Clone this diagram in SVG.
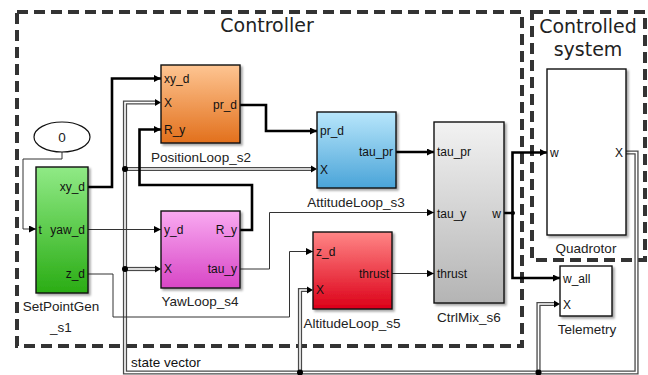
<svg xmlns="http://www.w3.org/2000/svg" width="648" height="375" viewBox="0 0 648 375">
  <style>
    .frame { fill: none; stroke: #333; stroke-width: 4; stroke-dasharray: 11 6; }
    .title { font-family: "DejaVu Sans", sans-serif; font-size: 19px; fill: #222; text-anchor: middle; }
    .blk { stroke: #111; stroke-width: 1.4; filter: url(#shadow); }
    .port { font-family: "Liberation Sans", Arial, sans-serif; font-size: 12px; fill: #111; }
    .portR { font-family: "Liberation Sans", Arial, sans-serif; font-size: 12px; fill: #111; text-anchor: end; }
    .name { font-family: "Liberation Sans", Arial, sans-serif; font-size: 13.5px; fill: #222; text-anchor: middle; }
    .thick { fill: none; stroke: #000; stroke-width: 2.6; stroke-linejoin: miter; }
    .thin { fill: none; stroke: #333; stroke-width: 1; }
    .busOut { fill: none; stroke: #4a4a4a; stroke-width: 4.2; }
    .busIn { fill: none; stroke: #fff; stroke-width: 1.6; }
    .dot { fill: #000; }
  </style>
  <defs>
    <filter id="shadow" x="-10%" y="-10%" width="130%" height="130%">
      <feDropShadow dx="2" dy="2" stdDeviation="1.2" flood-color="#000" flood-opacity="0.35"/>
    </filter>
    <marker id="arr" markerUnits="userSpaceOnUse" markerWidth="8" markerHeight="8" refX="7" refY="3.5" orient="auto">
      <path d="M0,0 L7,3.5 L0,7 z" fill="#000"/>
    </marker>
    <linearGradient id="gGreen" x1="0" y1="0" x2="0" y2="1">
      <stop offset="0" stop-color="#90ea86"/>
      <stop offset="1" stop-color="#2aac14"/>
    </linearGradient>
    <linearGradient id="gOrange" x1="0" y1="0" x2="0" y2="1">
      <stop offset="0" stop-color="#fec592"/>
      <stop offset="1" stop-color="#e2701c"/>
    </linearGradient>
    <linearGradient id="gBlue" x1="0" y1="0" x2="0" y2="1">
      <stop offset="0" stop-color="#b8e6fb"/>
      <stop offset="1" stop-color="#4aa4d8"/>
    </linearGradient>
    <linearGradient id="gPink" x1="0" y1="0" x2="0" y2="1">
      <stop offset="0" stop-color="#f9aaf1"/>
      <stop offset="1" stop-color="#d846c6"/>
    </linearGradient>
    <linearGradient id="gRed" x1="0" y1="0" x2="0" y2="1">
      <stop offset="0" stop-color="#ff8686"/>
      <stop offset="1" stop-color="#dc0018"/>
    </linearGradient>
    <linearGradient id="gGray" x1="0" y1="0" x2="0" y2="1">
      <stop offset="0" stop-color="#f2f2f2"/>
      <stop offset="1" stop-color="#b4b4b4"/>
    </linearGradient>
  </defs>

  <rect width="648" height="375" fill="#fff"/>

  <!-- subsystem frames -->
  <g id="frame-controller">
    <rect class="frame" x="17" y="12" width="505" height="334"/>
    <text class="title" x="267" y="32">Controller</text>
  </g>
  <g id="frame-plant">
    <rect class="frame" x="532" y="12" width="113" height="248"/>
    <text class="title" x="588" y="33">Controlled</text>
    <text class="title" x="588" y="56">system</text>
  </g>

  <!-- connectors -->
  <g id="connectors">
    <!-- state vector bus -->
    <g id="bus">
      <path class="busOut" d="M626,152.5 H636.5 V372.5 H125 V102.5 H157"/>
      <path class="busOut" d="M125,169 H313"/>
      <path class="busOut" d="M125,269 H157"/>
      <path class="busOut" d="M300,372.5 V290 H309"/>
      <path class="busOut" d="M538.5,372.5 V304 H556"/>
      <path class="busIn" d="M626,152.5 H636.5 V372.5 H125 V102.5 H157"/>
      <path class="busIn" d="M125,169 H313"/>
      <path class="busIn" d="M125,269 H157"/>
      <path class="busIn" d="M300,372.5 V290 H309"/>
      <path class="busIn" d="M538.5,372.5 V304 H556"/>
      <path d="M155,99 L161,102.5 L155,106 z" fill="#000"/>
      <path d="M311,165.5 L317,169 L311,172.5 z" fill="#000"/>
      <path d="M155,265.5 L161,269 L155,272.5 z" fill="#000"/>
      <path d="M307,286.5 L313,290 L307,293.5 z" fill="#000"/>
      <path d="M554,300.5 L560,304 L554,307.5 z" fill="#000"/>
      <circle class="dot" cx="125" cy="169" r="3"/>
      <circle class="dot" cx="125" cy="269" r="3"/>
      <circle class="dot" cx="300" cy="372.5" r="3"/>
      <circle class="dot" cx="538.5" cy="372.5" r="3"/>
      <text x="131" y="367" style="font-family:'Liberation Sans',Arial,sans-serif;font-size:13.5px;fill:#111">state vector</text>
    </g>
    <!-- signal wires -->
    <path class="thin" d="M62,152 V159 H23 V229 H36" marker-end="url(#arr)"/>
    <path class="thick" d="M88,187 H112 V78.5 H161" marker-end="url(#arr)"/>
    <path class="thin" d="M88,229.5 H161" marker-end="url(#arr)"/>
    <path class="thin" d="M88,274 H113 V317 H289.5 V251.5 H313" marker-end="url(#arr)"/>
    <path class="thick" d="M240,230 H252 V185 H139.5 V129.5 H161" marker-end="url(#arr)"/>
    <path class="thick" d="M240,105 H266 V131 H317" marker-end="url(#arr)"/>
    <path class="thin" d="M240,269 H269.5 V212.5 H434" marker-end="url(#arr)"/>
    <path class="thick" d="M396,152 H434" marker-end="url(#arr)"/>
    <path class="thin" d="M392,273.5 H434" marker-end="url(#arr)"/>
    <path class="thick" d="M504,213 H512.5 V152.5 H547" marker-end="url(#arr)"/>
    <path class="thick" d="M512.5,213 V278 H560" marker-end="url(#arr)"/>
    <circle class="dot" cx="513" cy="213" r="2"/>
  </g>

  <!-- blocks -->
  <g id="const0">
    <ellipse cx="62" cy="137" rx="28" ry="15" fill="#fff" stroke="#111" stroke-width="1.2"/>
    <text class="name" x="62" y="142">0</text>
  </g>

  <g id="SetPointGen_s1">
    <rect class="blk" x="36" y="167" width="52" height="126" fill="url(#gGreen)"/>
    <text class="port" x="38.5" y="233.5">t</text>
    <text class="portR" x="85" y="191">xy_d</text>
    <text class="portR" x="85" y="233.5">yaw_d</text>
    <text class="portR" x="85" y="278">z_d</text>
    <text class="name" x="61" y="311">SetPointGen</text>
    <text class="name" x="61" y="332">_s1</text>
  </g>

  <g id="PositionLoop_s2">
    <rect class="blk" x="161" y="65" width="79" height="78" fill="url(#gOrange)"/>
    <text class="port" x="164" y="82.5">xy_d</text>
    <text class="port" x="164" y="107">X</text>
    <text class="port" x="164" y="133.5">R_y</text>
    <text class="portR" x="237" y="109">pr_d</text>
    <text class="name" x="201" y="161.5">PositionLoop_s2</text>
  </g>

  <g id="AttitudeLoop_s3">
    <rect class="blk" x="317" y="112" width="79" height="76" fill="url(#gBlue)"/>
    <text class="port" x="320" y="135">pr_d</text>
    <text class="port" x="320" y="173.5">X</text>
    <text class="portR" x="393" y="156">tau_pr</text>
    <text class="name" x="356" y="206.5">AttitudeLoop_s3</text>
  </g>

  <g id="YawLoop_s4">
    <rect class="blk" x="161" y="211" width="79" height="77" fill="url(#gPink)"/>
    <text class="port" x="164" y="234">y_d</text>
    <text class="port" x="164" y="273">X</text>
    <text class="portR" x="237" y="234">R_y</text>
    <text class="portR" x="237" y="273">tau_y</text>
    <text class="name" x="200" y="306">YawLoop_s4</text>
  </g>

  <g id="AltitudeLoop_s5">
    <rect class="blk" x="313" y="232" width="79" height="77" fill="url(#gRed)"/>
    <text class="port" x="316" y="256">z_d</text>
    <text class="port" x="316" y="294">X</text>
    <text class="portR" x="389" y="278">thrust</text>
    <text class="name" x="352" y="328">AltitudeLoop_s5</text>
  </g>

  <g id="CtrlMix_s6">
    <rect class="blk" x="434" y="122" width="70" height="181" fill="url(#gGray)"/>
    <text class="port" x="437" y="156">tau_pr</text>
    <text class="port" x="437" y="217.5">tau_y</text>
    <text class="port" x="437" y="277.5">thrust</text>
    <text class="portR" x="501" y="217.5">w</text>
    <text class="name" x="469" y="322">CtrlMix_s6</text>
  </g>

  <g id="Quadrotor">
    <rect class="blk" x="547" y="69" width="79" height="166" fill="#fff"/>
    <text class="port" x="550" y="157">w</text>
    <text class="portR" x="623" y="157">X</text>
    <text class="name" x="586" y="253">Quadrotor</text>
  </g>

  <g id="Telemetry">
    <rect class="blk" x="560" y="266" width="52" height="50" fill="#fff"/>
    <text class="port" x="563" y="282.5">w_all</text>
    <text class="port" x="563" y="308.5">X</text>
    <text class="name" x="587" y="334">Telemetry</text>
  </g>
</svg>
